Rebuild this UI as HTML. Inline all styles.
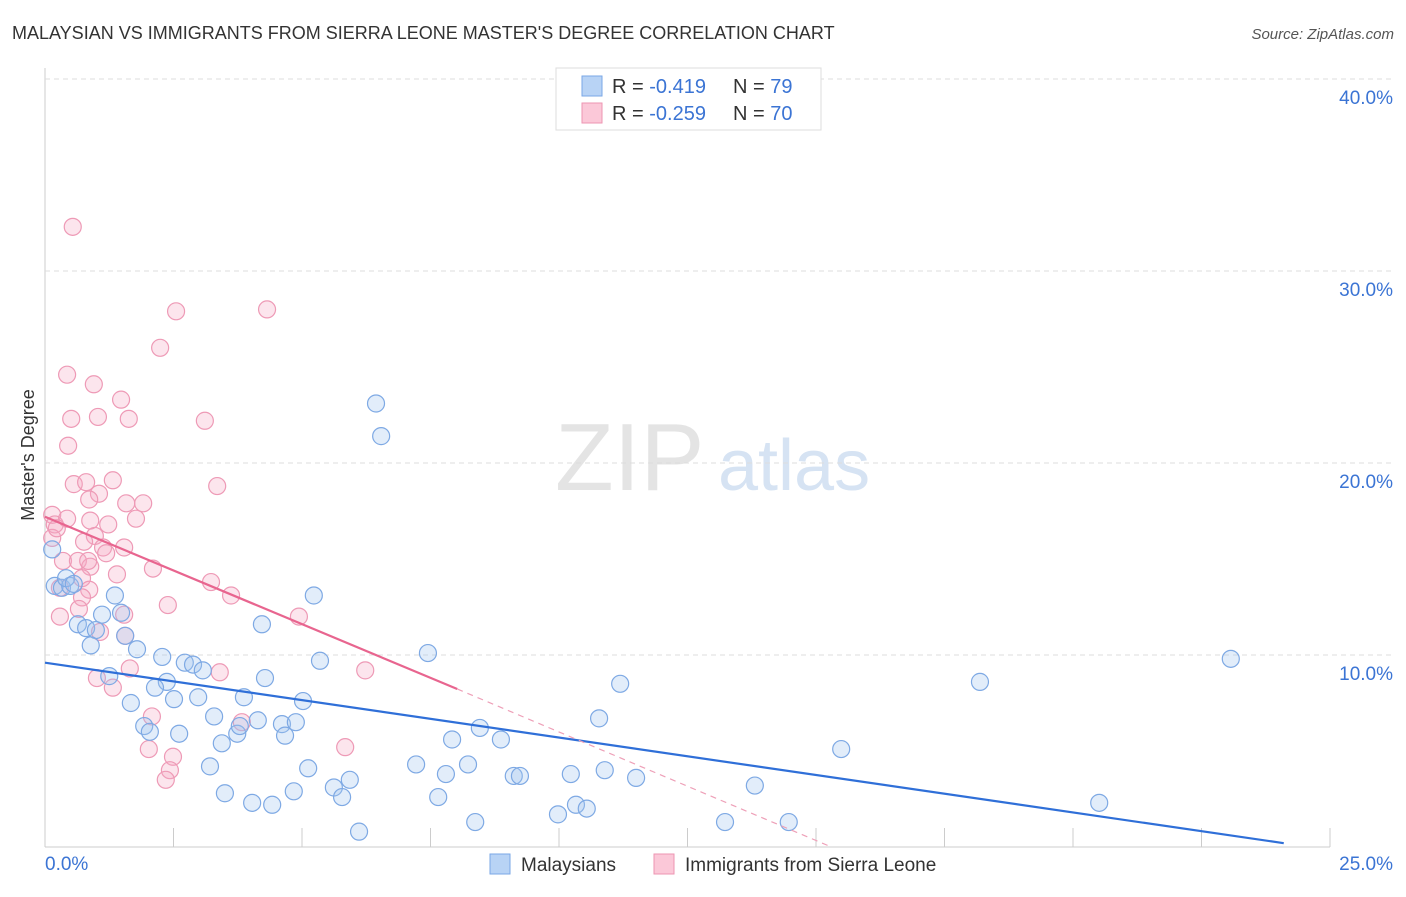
<!DOCTYPE html>
<html><head><meta charset="utf-8"><style>
body{margin:0;background:#fff;font-family:"Liberation Sans",sans-serif;}
svg text{font-family:"Liberation Sans",sans-serif;}
</style></head><body>
<svg id="chart" width="1406" height="892" xmlns="http://www.w3.org/2000/svg">
<text x="12" y="39" font-size="18" fill="#333">MALAYSIAN VS IMMIGRANTS FROM SIERRA LEONE MASTER'S DEGREE CORRELATION CHART</text>
<text x="1394" y="39" font-size="15" fill="#555" text-anchor="end" font-style="italic">Source: ZipAtlas.com</text>
<text x="555" y="490" font-size="96" fill="#e4e4e4" font-family="Liberation Serif">ZIP</text>
<text x="718" y="490" font-size="72" fill="#d6e3f3">atlas</text>
<text x="34" y="455" font-size="18" fill="#333" text-anchor="middle" transform="rotate(-90 34 455)">Master's Degree</text>
<g id="grid"></g><g id="ticks"></g><g id="pts"></g><g id="lines"></g>
<g>
<rect x="556" y="68" width="265" height="62" fill="#fff" stroke="#ddd"/>
<rect x="582" y="76" width="20" height="20" fill="#b8d3f5" stroke="#7aa7e6"/>
<rect x="582" y="103" width="20" height="20" fill="#fbc8d8" stroke="#ee95b2"/>
<text x="612" y="93" font-size="20" fill="#333">R = <tspan fill="#3b74d4">-0.419</tspan></text>
<text x="733" y="93" font-size="20" fill="#333">N = <tspan fill="#3b74d4">79</tspan></text>
<text x="612" y="120" font-size="20" fill="#333">R = <tspan fill="#3b74d4">-0.259</tspan></text>
<text x="733" y="120" font-size="20" fill="#333">N = <tspan fill="#3b74d4">70</tspan></text>
</g>
<g>
<rect x="490" y="854" width="20" height="20" fill="#b8d3f5" stroke="#7aa7e6"/>
<text x="521" y="871" font-size="19" fill="#333">Malaysians</text>
<rect x="654" y="854" width="20" height="20" fill="#fbc8d8" stroke="#ee95b2"/>
<text x="685" y="871" font-size="19" fill="#333">Immigrants from Sierra Leone</text>
</g>
</svg>
<script>
const xTickLabels=["0.0%","25.0%"];
const yTicks=[10,20,30,40];
const blueX=[6.44,6.54,0.14,0.19,0.33,0.49,0.41,0.56,1.36,1.11,1.48,0.64,0.80,0.99,1.56,0.89,1.79,2.28,2.72,2.88,3.07,1.25,2.37,2.14,2.98,2.51,1.67,3.87,4.28,4.22,5.23,5.35,5.02,3.29,4.14,4.61,4.88,1.93,2.04,2.61,3.74,3.79,4.67,3.44,3.21,5.12,5.93,5.62,5.78,3.50,4.03,4.42,4.84,6.11,7.22,7.80,7.65,7.92,8.23,8.46,8.87,9.12,9.24,8.37,9.98,10.33,10.54,10.23,10.89,10.78,11.19,11.50,7.45,13.81,13.23,14.47,15.49,18.19,20.51,23.07];
const blueY=[23.1,21.4,15.5,13.6,13.5,13.6,14.0,13.7,13.1,12.1,12.2,11.6,11.4,11.3,11.0,10.5,10.3,9.9,9.6,9.5,9.2,8.9,8.6,8.3,7.8,7.7,7.5,7.8,8.8,11.6,13.1,9.7,7.6,6.8,6.6,6.4,6.5,6.3,6.0,5.9,5.9,6.3,5.8,5.4,4.2,4.1,3.5,3.1,2.6,2.8,2.3,2.2,2.9,0.8,4.3,3.8,2.6,5.6,4.3,6.2,5.6,3.7,3.7,1.3,1.7,2.2,2.0,3.8,4.0,6.7,8.5,3.6,10.1,3.2,1.3,1.3,5.1,8.6,2.3,9.8];
const pinkX=[0.54,2.55,4.32,2.24,0.43,0.95,1.48,0.51,1.03,1.63,3.11,0.45,3.35,0.56,0.80,1.32,1.05,0.86,1.58,1.91,1.77,0.14,0.19,0.43,0.88,1.23,0.14,0.23,0.97,0.76,1.13,1.54,1.19,0.35,0.64,0.88,2.10,1.40,0.72,3.23,3.62,0.29,0.86,0.72,2.39,0.66,4.94,0.29,1.54,1.56,1.07,6.23,3.40,1.65,1.01,1.32,2.08,3.83,2.02,5.84,2.49,2.43,2.35,0.84];
const pinkY=[32.3,27.9,28.0,26.0,24.6,24.1,23.3,22.3,22.4,22.3,22.2,20.9,18.8,18.9,19.0,19.1,18.4,18.1,17.9,17.9,17.1,17.3,16.8,17.1,17.0,16.8,16.1,16.6,16.2,15.9,15.6,15.6,15.3,14.9,14.9,14.6,14.5,14.2,14.0,13.8,13.1,13.5,13.4,13.0,12.6,12.4,12.0,12.0,12.1,11.0,11.2,9.2,9.1,9.3,8.8,8.3,6.8,6.5,5.1,5.2,4.7,4.0,3.5,14.9];
const blueTrend=[[0,9.6],[24.1,0.2]];
const pinkTrend=[[0,17.2],[8.02,8.23]];
const pinkDash=[[8.02,8.23],[15.3,0]];
const X=v=>45+v*51.4, Y=v=>847-v*19.2;
const NS="http://www.w3.org/2000/svg";
function mk(parent,tag,attrs){const e=document.createElementNS(NS,tag);for(const k in attrs)e.setAttribute(k,attrs[k]);document.getElementById(parent).appendChild(e);return e;}
let ax=mk('grid','line',{x1:45,y1:68,x2:45,y2:847,stroke:'#ccc'});


let bx=mk('grid','line',{x1:45,y1:847,x2:1330,y2:847,stroke:'#ccc'});


yTicks.forEach(t=>{
 const g=mk('grid','line',{x1:45,y1:Y(t),x2:1394,y2:Y(t),stroke:'#ddd','stroke-dasharray':'5,4'});
 
 
 const l=mk('ticks','text',{x:1393,y:Y(t)+25,'font-size':19,fill:'#3b74d4','text-anchor':'end'});
 l.textContent=t.toFixed(1)+'%';
 
 
});
for(let i=1;i<=10;i++){
 const t=mk('ticks','line',{x1:X(i*2.5),y1:828,x2:X(i*2.5),y2:847,stroke:'#ccc'});
 
 
}
const l0=mk('ticks','text',{x:45,y:870,'font-size':19,fill:'#3b74d4'});l0.textContent=xTickLabels[0];


const l1=mk('ticks','text',{x:1393,y:870,'font-size':19,fill:'#3b74d4','text-anchor':'end'});l1.textContent=xTickLabels[1];


pinkX.forEach((x,i)=>{const c=mk('pts','circle',{cx:X(x),cy:Y(pinkY[i]),r:8.5,fill:'rgba(246,170,196,0.3)',stroke:'#ee9ab6','stroke-width':1.2});

});
blueX.forEach((x,i)=>{const c=mk('pts','circle',{cx:X(x),cy:Y(blueY[i]),r:8.5,fill:'rgba(160,195,240,0.3)',stroke:'#7ea9e4','stroke-width':1.2});

});
const t1=mk('lines','line',{x1:X(blueTrend[0][0]),y1:Y(blueTrend[0][1]),x2:X(blueTrend[1][0]),y2:Y(blueTrend[1][1]),stroke:'#2f6fd8','stroke-width':2.2});


const t2=mk('lines','line',{x1:X(pinkTrend[0][0]),y1:Y(pinkTrend[0][1]),x2:X(pinkTrend[1][0]),y2:Y(pinkTrend[1][1]),stroke:'#e8658f','stroke-width':2.2});


const t3=mk('lines','line',{x1:X(pinkDash[0][0]),y1:Y(pinkDash[0][1]),x2:X(pinkDash[1][0]),y2:Y(pinkDash[1][1]),stroke:'#eea0b8','stroke-width':1.2,'stroke-dasharray':'6,5'});


</script>
</body></html>
